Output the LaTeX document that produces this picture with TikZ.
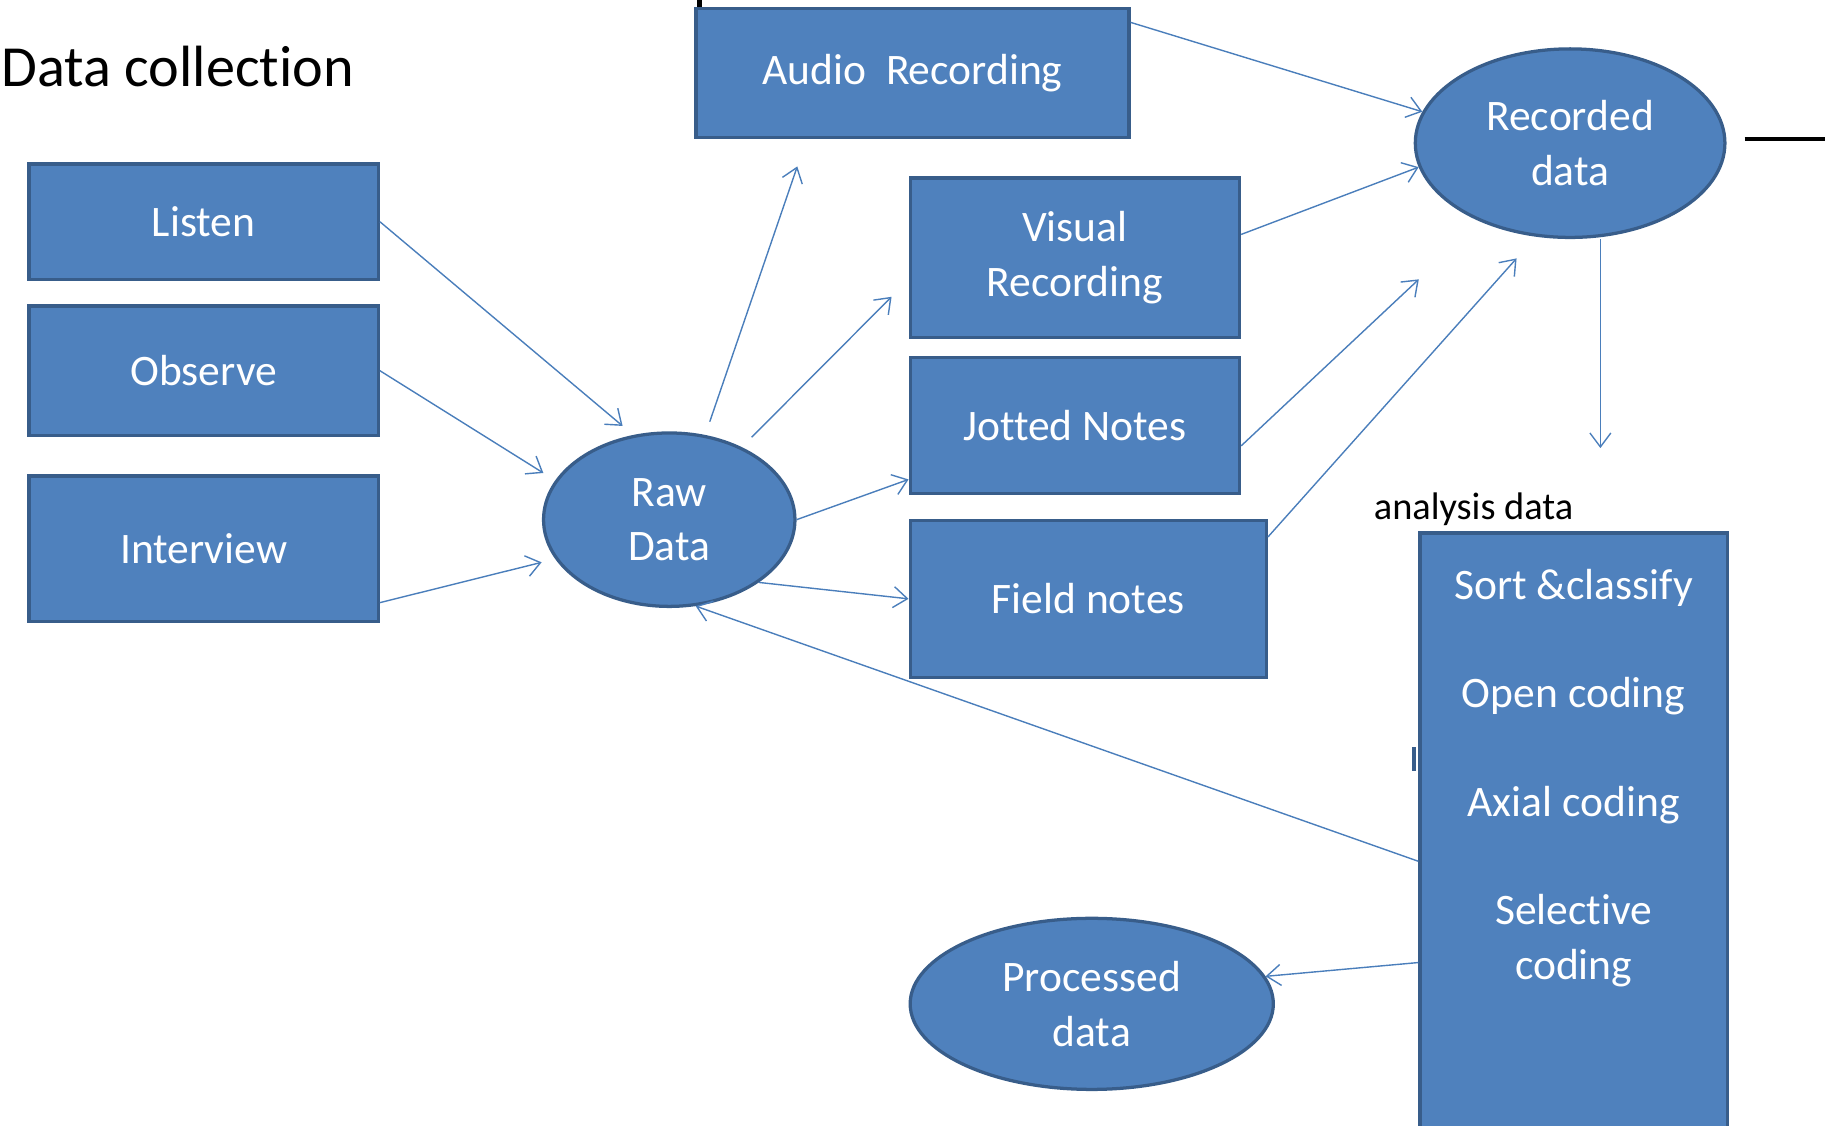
\documentclass[tikz,border=0pt]{standalone}
\usepackage{fontspec}
\setmainfont[Ligatures=NoCommon]{Carlito}
\usetikzlibrary{shapes.geometric,arrows.meta}
\definecolor{boxfill}{HTML}{4F81BD}
\definecolor{boxline}{HTML}{385D8A}
\definecolor{arrowline}{HTML}{4A7EBB}
\begin{document}
\begin{tikzpicture}[x=.5pt,y=-.5pt,
		box/.style={draw=boxline,fill=boxfill,line width=1.4pt,text=white,font=\fontsize{18.7}{23.5}\selectfont,align=center,inner sep=0pt},
		blob/.style={box,ellipse},
		itemtext/.style={text=white,font=\fontsize{18.7}{23.5}\selectfont,align=center,inner sep=0pt},
		link/.style={->,draw=arrowline,line width=.6pt,>={Straight Barb[length=6pt,width=9pt]}},
		rawend/.style={shorten >=6pt},
		rawstart/.style={shorten <=6pt}]
		\useasboundingbox (0,0) rectangle (1568,967);
		\node[anchor=base west,inner sep=0pt,font=\fontsize{25}{30}\selectfont] (title) at (1,74) {Data collection};
		\node[box,minimum width=186pt,minimum height=55.5pt] (audio) at (784,62.5) {Audio~ Recording};
		\node[box,minimum width=150pt,minimum height=49.5pt] (listen) at (175,190.5) {Listen};
		\node[box,minimum width=150pt,minimum height=55.5pt] (observe) at (175,318.5) {Observe};
		\node[box,minimum width=150pt,minimum height=62.5pt] (interview) at (175,471.5) {Interview};
		\node[blob,minimum width=108pt,minimum height=74.5pt] (raw) at (575,446.5) {Raw\\Data};
		\node[box,minimum width=141.5pt,minimum height=68.5pt] (visual) at (923.5,221.5) {Visual\\Recording};
		\node[box,minimum width=141.5pt,minimum height=58.5pt] (jotted) at (923.5,365.5) {Jotted Notes};
		\node[box,minimum width=153pt,minimum height=67.5pt] (field) at (935,514.5) {Field notes};
		\node[blob,minimum width=133pt,minimum height=81pt] (recorded) at (1349,123) {Recorded\\data};
		\node[anchor=base west,inner sep=0pt,font=\fontsize{16.5}{20}\selectfont] (analysis) at (1180,446) {analysis data};
		\node[box,minimum width=132pt,minimum height=282pt] (coding) at (1352,740) {};
		\node[itemtext] (sort) at (1352,505) {Sort \&classify};
		\node[itemtext] (open) at (1352,598) {Open coding};
		\node[itemtext] (axial) at (1352,692) {Axial coding};
		\node[itemtext] (selective) at (1352,808) {Selective\\coding};
		\node[blob,minimum width=156pt,minimum height=73.5pt] (processed) at (938,862.5) {Processed\\data};
		\coordinate (audiogap) at (685,143);
		\coordinate (visualgap) at (766,255);
		\coordinate (recgap1) at (1219,240);
		\coordinate (recgap2) at (1303,222);
		\coordinate (codegap) at (1375,385);
		\draw[link,rawend] (listen.east) -- (raw.113);
		\draw[link,rawend] (observe.east) -- (raw.161);
		\draw[link,rawend] (interview.-17) -- (raw.199);
		\draw[link,rawstart] (raw.67) -- (audiogap);
		\draw[link,rawstart] (raw.45) -- (visualgap);
		\draw[link] (raw.east) -- (jotted.198);
		\draw[link] (raw.-35) -- (field.west);
		\draw[link] (audio.13) -- (recorded.168);
		\draw[link] (visual.8) -- (recorded.189);
		\draw[link] (jotted.-7) -- (recgap1);
		\draw[link] (field.19) -- (recgap2);
		\draw[link] (recorded.south -| codegap) -- (codegap);
		\draw[link] (coding.west) -- (raw.-73);
		\draw[link] ([yshift=-43.5pt]coding.west) -- (processed.9);
		\draw[line width=2pt] (601,0) -- (601,6);
		\draw[line width=1.4pt] (1499,119.5) -- (1568,119.5);
		\draw[boxline,line width=2pt] (1215,642) -- (1215,662);
	\end{tikzpicture}
\end{document}
